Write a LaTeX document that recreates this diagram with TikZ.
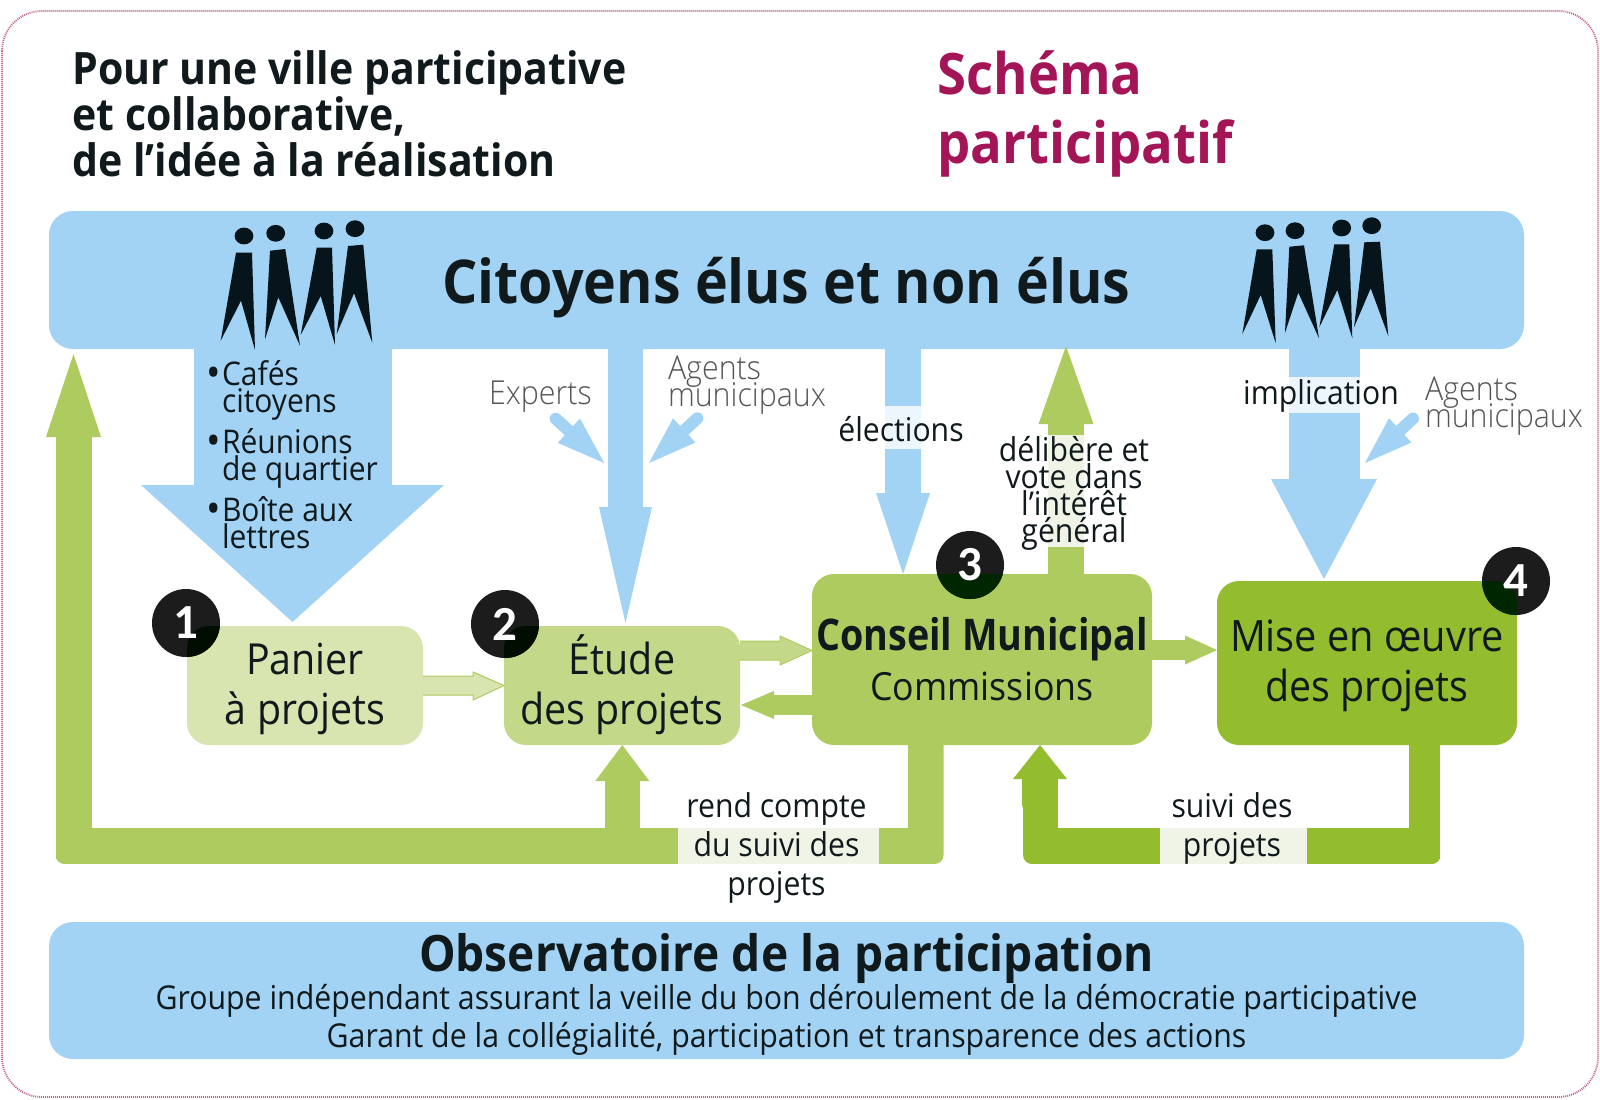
\documentclass[tikz,border=0pt]{standalone}
\usepackage{fontspec}
\setmainfont[FakeStretch=0.92]{Open Sans}
\newfontfamily\lightfont[FakeStretch=0.92]{Open Sans Light}
\newfontfamily\digitfont{Carlito}
\usetikzlibrary{arrows.meta,calc}
\definecolor{bandblue}{HTML}{A2D3F4}
\definecolor{gA}{HTML}{D9E5B0}
\definecolor{gB}{HTML}{C3D989}
\definecolor{gC}{HTML}{AECB5F}
\definecolor{gD}{HTML}{93BC2E}
\definecolor{paleg}{HTML}{F0F4E6}
\definecolor{paleb}{HTML}{EEF6FD}
\definecolor{ink}{HTML}{10191C}
\definecolor{greyt}{HTML}{565656}
\definecolor{magt}{HTML}{A31556}
\definecolor{pinkb}{HTML}{C8658C}
\definecolor{personc}{HTML}{06141C}
\newcommand\mlc[1]{{\lineskiplimit=-100pt\relax\let\\\cr\vbox{\halign{\hfil##\hfil\cr#1\crcr}}}}
\newcommand\mll[1]{{\lineskiplimit=-100pt\relax\let\\\cr\vbox{\halign{##\hfil\cr#1\crcr}}}}
\newcommand\rs[2]{\raisebox{#1}[0pt][0pt]{#2}}
\newcommand\fsz[2]{\fontsize{#1}{#2}\selectfont}
\newcommand\bul{\llap{\raisebox{-1.2pt}{\fontsize{21}{13.5}\selectfont •}\kern0.4pt}}
\tikzset{
  x=0.5pt,y=-0.5pt,
  tipd/.style 2 args={-{Triangle[length=#1,width=#2,line width=0pt]}},
  band/.style={fill=bandblue,rounded corners=12pt,inner sep=0pt,outer sep=0pt,text=ink},
  stepbox/.style={rounded corners=11pt,inner sep=0pt,outer sep=0pt,text=ink,font=\fsz{21.4}{25}},
  badge/.style={circle,fill=black!89,minimum size=34pt,inner sep=0pt,outer sep=0pt},
  digit/.style={text=white,inner sep=0pt,font=\digitfont\bfseries\fsz{24.5}{24.5}},
  lab/.style={inner sep=0pt,outer sep=0pt,text=ink,anchor=base,font=\fsz{16.4}{16.4}},
  glab/.style={inner sep=0pt,outer sep=0pt,text=greyt,anchor=base west,font=\lightfont\fsz{16.5}{13.5}},
  person/.style={fill=personc},
  blue arrow/.style={draw=bandblue},
}
\begin{document}
\begin{tikzpicture}
\useasboundingbox (0,0) rectangle (1600,1099);
\fill[white] (0,0) rectangle (1600,1099);
\draw[pinkb,line width=0.9pt,dash pattern=on 0.5pt off 0.5pt,rounded corners=20pt,fill=white] (2,11) rectangle (1598,1097);

% named anchors
\coordinate (tipPanier) at (292.5,622);
\coordinate (tipEtude) at (625.5,623);
\coordinate (tipElect) at (903,574);
\coordinate (tipImpl) at (1324,579);
\coordinate (tipDelib) at (1066,346);
\coordinate (expTail) at (555.7,418.7);
\coordinate (expTip) at (604.3,463);
\coordinate (agAtail) at (697.3,418.3);
\coordinate (agAtip) at (649,463);
\coordinate (agBtail) at (1413,418.5);
\coordinate (agBtip) at (1365,463);

% blue arrows (below the band)
\path (786.5,280) coordinate (citC);
\draw[blue arrow,line width=99pt,tipd={68.5pt}{151.5pt}] (citC -| tipPanier) -- (tipPanier);
\draw[blue arrow,line width=17.5pt,tipd={58pt}{26.5pt}] (citC -| tipEtude) -- (tipEtude);
\draw[blue arrow,line width=18pt,tipd={40.5pt}{27pt}] (citC -| tipElect) -- (tipElect);
\draw[blue arrow,line width=35.5pt,tipd={50pt}{53pt}] (citC -| tipImpl) -- (tipImpl);
\draw[blue arrow,line width=6pt,line cap=round,tipd={24pt}{16.5pt}] (expTail) -- (expTip);
\draw[blue arrow,line width=6pt,line cap=round,tipd={24pt}{16.5pt}] (agAtail) -- (agAtip);
\draw[blue arrow,line width=6pt,line cap=round,tipd={24pt}{16.5pt}] (agBtail) -- (agBtip);

% bands
\node[band,minimum width=737.5pt,minimum height=69pt,font=\bfseries\fsz{30.2}{30}] (cit) at (citC)
  {\rs{-11.5pt}{Citoyens élus et non élus}};
\node[band,minimum width=737.5pt,minimum height=68.5pt,font=\fsz{16.45}{19}] (obs) at (786.5,990.5)
  {\rs{-28.25pt}{\mlc{{\bfseries\fsz{25.05}{19}Observatoire de la participation}\\Groupe indépendant assurant la veille du bon déroulement de la démocratie participative\\Garant de la collégialité, participation et transparence des actions}}};

% boxes
\node[stepbox,fill=gA,minimum width=118pt,minimum height=59.5pt] (panier) at (305,685.5) {\rs{-19.25pt}{\mlc{Panier\\à projets}}};
\node[stepbox,fill=gB,minimum width=118pt,minimum height=59.5pt] (etude) at (622,685.5) {\rs{-19.25pt}{\mlc{Étude\\des projets}}};
\node[stepbox,fill=gC,minimum width=170pt,minimum height=85.5pt,font=\fsz{19.4}{25}] (conseil) at (982,659.5) {\rs{-20.25pt}{\mlc{\scalebox{.94}[1]{\bfseries\fsz{21.8}{25}Conseil Municipal}\\Commissions}}};
\node[stepbox,fill=gD,minimum width=150pt,minimum height=82pt,font=\fsz{21.6}{25}] (mise) at (1367,663) {\rs{-19pt}{\mlc{Mise en œuvre\\{\fsz{21.4}{25}des projets}}}};

% outlined and solid small arrows between boxes
\coordinate (ecS) at (etude.east |- 0,650.5);
\coordinate (ecT) at (conseil.west |- 0,650.5);
\coordinate (ceS) at (conseil.west |- 0,705);
\coordinate (ceT) at (741,705);
\coordinate (cmS) at (conseil.east |- 0,650);
\coordinate (cmT) at (mise.west |- 0,650);
\filldraw[fill=gA,draw=gC,line width=0.5pt] ($(panier.east)+(0,-9.5)$) -- ++(50,0) -- ++(0,-4) -- ($(etude.west)+(0,0)$) -- ++(-31,14.5) -- ++(0,-5) -- ($(panier.east)+(0,9.5)$);
\filldraw[fill=gB,draw=gC,line width=0.5pt] ($(ecS)+(0,-9.5)$) -- ++(40,0) -- ++(0,-5) -- (ecT) -- ++(-32,14.5) -- ++(0,-5) -- ($(ecS)+(0,9.5)$);
\draw[draw=gC,line width=10pt,tipd={16.5pt}{14pt}] (ceS) -- (ceT);
\draw[draw=gC,line width=10pt,tipd={16pt}{14.5pt}] (cmS) -- (cmT);

% green return bars
\coordinate (rendA) at (conseil.south -| 925.5,0);
\coordinate (rendB) at (925.5,846);
\coordinate (rendC) at (73.5,846);
\coordinate (rendTip) at (73.5,354);
\coordinate (brS) at (622.3,846);
\coordinate (brT) at (etude.south -| 622.3,0);
\begin{scope}
  \clip[rounded corners=4.5pt] (0,300) -- (943.5,300) -- (943.5,864) -- (55.5,864) -- (55.5,500) -- (0,500) -- cycle;
  \draw[draw=gC,line width=18pt,tipd={41.5pt}{27.5pt}] (rendA) -- (rendB) -- (rendC) -- (rendTip);
\end{scope}
\draw[draw=gC,line width=17.5pt,tipd={18pt}{27pt}] (brS) -- (brT);
\coordinate (suivA) at (mise.south -| 1424.5,0);
\coordinate (suivB) at (1424.5,864);
\coordinate (suivC) at (1440.5,846);
\coordinate (suivD) at (1040,846);
\coordinate (suivTip) at (conseil.south -| 1040,0);
\begin{scope}
  \clip[rounded corners=4.5pt] (1000,700) -- (1440.5,700) -- (1440.5,864) -- (1023,864) -- (1023,800) -- (1000,800) -- cycle;
  \draw[draw=gD,line width=15.5pt] (suivA) -- (suivB);
  \draw[draw=gD,line width=18pt,tipd={17pt}{27pt}] (suivC) -- (suivD) -- (suivTip);
\end{scope}
\draw[draw=gC,line width=18pt,tipd={39pt}{27.5pt}] (conseil.north -| tipDelib) -- (tipDelib);

% pale label strips
\fill[paleg] (677.5,828) rectangle (879,864);
\fill[paleg] (1160,828) rectangle (1307,864);
\fill[paleg] (1048,435) rectangle (1084,547);
\fill[paleb] (885,406) rectangle (921,449);
\fill[paleb] (1289,377) rectangle (1359.5,413);

% people, left group
\fill[person] (244,236) ellipse [x radius=4.7pt,y radius=4.2pt];
\fill[person] (236,252.7) -- (252,252.7) -- (255,350) -- (241,300.7) -- (220.7,340.7) -- cycle;
\fill[person] (275.7,233.3) ellipse [x radius=4.7pt,y radius=4.2pt];
\fill[person] (270,250.7) -- (285.3,249) -- (300,345.7) -- (278.3,297.3) -- (265,339.3) -- cycle;
\fill[person] (324,231) ellipse [x radius=4.7pt,y radius=4.2pt];
\fill[person] (316.7,247.7) -- (332,247.7) -- (335,345) -- (320.7,296) -- (300.7,335) -- cycle;
\fill[person] (355,228.7) ellipse [x radius=4.7pt,y radius=4.2pt];
\fill[person] (348,246) -- (363.3,244.7) -- (372.3,342.7) -- (354,293.3) -- (336.7,334) -- cycle;
% people, right group
\fill[person] (1265,232.7) ellipse [x radius=4.7pt,y radius=4.2pt];
\fill[person] (1256.7,249.3) -- (1272.3,249.3) -- (1275.7,343.3) -- (1260.7,295) -- (1242.3,334) -- cycle;
\fill[person] (1295,230.7) ellipse [x radius=4.7pt,y radius=4.2pt];
\fill[person] (1289.3,246.7) -- (1304,245.3) -- (1319,338.3) -- (1298.3,292.7) -- (1285,332.7) -- cycle;
\fill[person] (1341.7,228) ellipse [x radius=4.7pt,y radius=4.2pt];
\fill[person] (1334.3,244.3) -- (1349.3,244.3) -- (1352.3,338.3) -- (1337.3,290) -- (1319.3,327.3) -- cycle;
\fill[person] (1371.7,225.7) ellipse [x radius=4.7pt,y radius=4.2pt];
\fill[person] (1364.3,242.3) -- (1380,241.7) -- (1388.3,336) -- (1370.7,288.3) -- (1354,327.3) -- cycle;

% badges
\node[badge] (b1) at (186,623) {};
\node[badge] (b2) at (505,624) {};
\node[badge] (b3) at (970,565) {};
\node[badge] (b4) at (1516,581) {};
\begin{scope}\clip[rounded corners=11pt] (panier.south west) rectangle (panier.north east); \fill[black!95!green] (b1) circle[radius=17pt];\end{scope}
\begin{scope}\clip[rounded corners=11pt] (etude.south west) rectangle (etude.north east); \fill[black!95!green] (b2) circle[radius=17pt];\end{scope}
\begin{scope}\clip[rounded corners=11pt] (conseil.south west) rectangle (conseil.north east); \fill[black!85!green] (b3) circle[radius=17pt];\end{scope}
\begin{scope}\clip[rounded corners=11pt] (mise.south west) rectangle (mise.north east); \fill[black!85!green] (b4) circle[radius=17pt];\end{scope}
\node[digit] (n1) at (b1) {1};
\node[digit] (n2) at (b2) {2};
\node[digit] (n3) at (b3) {3};
\node[digit] (n4) at (b4) {4};

% titles
\node[inner sep=0pt,anchor=base west,text=ink,font=\bfseries\fsz{22.3}{23}] (title) at (72,176)
  {\mll{Pour une ville participative\\et collaborative,\\de l’idée à la réalisation}};
\node[inner sep=0pt,anchor=base west,text=magt,font=\bfseries\fsz{28.6}{34.5}] (schema) at (937,163)
  {\mll{Schéma\\participatif}};

% labels
\node[lab,anchor=base west,font=\fsz{16.3}{13.5}] (bullets) at (222,548)
  {\mll{\bul Cafés\\citoyens\\\noalign{\vskip7pt}\bul Réunions\\de quartier\\\noalign{\vskip7pt}\bul Boîte aux\\lettres}};
\node[glab] (experts) at (489,404) {Experts};
\node[glab] (agA) at (668,406) {\mll{Agents\\municipaux}};
\node[glab] (agB) at (1425,427) {\mll{Agents\\municipaux}};
\node[lab] (elect) at (901,441) {élections};
\node[lab] (impl) at (1321,404) {implication};
\node[lab,font=\fsz{16.4}{13.5}] (delib) at (1074,542) {\mlc{délibère et\\vote dans\\l’intérêt\\général}};
\node[lab,font=\fsz{16.4}{19.5}] (rend) at (776.5,895) {\mlc{rend compte\\du suivi des\\projets}};
\node[lab,font=\fsz{16.4}{19.5}] (suivi) at (1232,856) {\mlc{suivi des\\projets}};
\end{tikzpicture}
\end{document}
